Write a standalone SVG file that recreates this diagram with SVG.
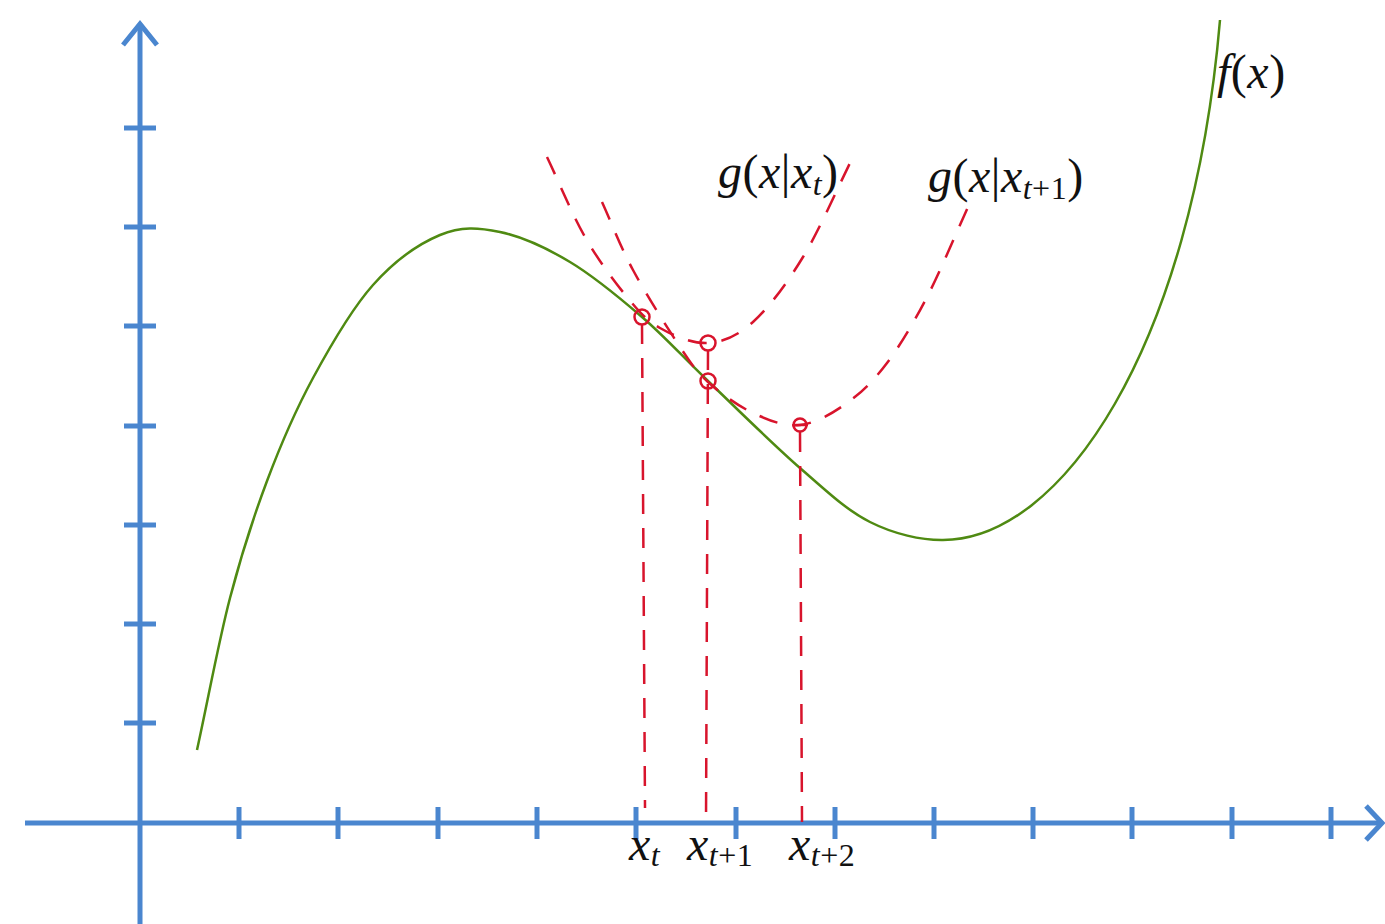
<svg xmlns="http://www.w3.org/2000/svg" width="1385" height="924" viewBox="0 0 1385 924">
<style>
.axis{stroke:#4a86cf;stroke-width:5;fill:none;stroke-linecap:butt}
.tick{stroke:#4a86cf;stroke-width:5}
.f{stroke:#4f8a12;stroke-width:2.5;fill:none}
.g{stroke:#d8142c;stroke-width:2.5;fill:none;stroke-dasharray:19 15}
.v{stroke:#d8142c;stroke-width:2.5;fill:none;stroke-dasharray:20 14}
.pt{stroke:#d8142c;stroke-width:2.5;fill:none}
.lbl{font-size:48px;fill:#111;letter-spacing:0.5px}
.it{font-style:italic}
.sub{font-size:32px}
</style>
<g id="axes">
<line class="axis" x1="140" y1="924" x2="140" y2="24"/>
<polyline class="axis" points="123,45 140,24 157,45"/>
<line class="axis" x1="25" y1="823" x2="1381" y2="823"/>
<polyline class="axis" points="1366,806 1382,823 1366,840"/>
<g class="tick">
<line x1="124" y1="128" x2="156" y2="128"/>
<line x1="124" y1="227" x2="156" y2="227"/>
<line x1="124" y1="326" x2="156" y2="326"/>
<line x1="124" y1="426" x2="156" y2="426"/>
<line x1="124" y1="525" x2="156" y2="525"/>
<line x1="124" y1="624" x2="156" y2="624"/>
<line x1="124" y1="723" x2="156" y2="723"/>
<line x1="239" y1="807" x2="239" y2="839"/>
<line x1="338" y1="807" x2="338" y2="839"/>
<line x1="438" y1="807" x2="438" y2="839"/>
<line x1="537" y1="807" x2="537" y2="839"/>
<line x1="636" y1="807" x2="636" y2="839"/>
<line x1="736" y1="807" x2="736" y2="839"/>
<line x1="835" y1="807" x2="835" y2="839"/>
<line x1="934" y1="807" x2="934" y2="839"/>
<line x1="1033" y1="807" x2="1033" y2="839"/>
<line x1="1132" y1="807" x2="1132" y2="839"/>
<line x1="1232" y1="807" x2="1232" y2="839"/>
<line x1="1331" y1="807" x2="1331" y2="839"/>
</g>
</g>
<g id="curve-f">
<path class="f" d="M197,750 C208,700 218.3,642.8 230,598 C241.7,553.2 253.2,517.7 267,481 C280.8,444.3 295.3,410.7 313,378 C330.7,345.3 351.8,308.8 373,285 C394.2,261.2 418.8,243.8 440,235 C461.2,226.2 478.3,227.5 500,232 C521.7,236.5 546.3,247.8 570,262 C593.7,276.2 619,297.2 642,317 C665,336.8 681.7,355.8 708,381 C734.3,406.2 773,444.5 800,468 C827,491.5 846.2,510 870,522 C893.8,534 921.3,540.3 943,540 C1060,540 1192,350 1220,20"/>
</g>
<g id="curve-g1">
<path class="g" d="M547,157 C559.7,183.7 571.7,213.7 585,237 C598.3,260.3 614.5,281.8 627,297 C639.5,312.2 646.5,320.3 660,328 C673.5,335.7 692.5,344 708,343 C723.5,342 737.2,336.3 753,322 C768.8,307.7 786.3,284.5 803,257 C819.7,229.5 836.3,190.3 853,157"/>
</g>
<g id="curve-g2">
<path class="g" d="M602,202 C612.3,224.7 620,245.8 633,270 C646,294.2 667.5,328.3 680,347 C692.5,365.7 695.8,371 708,382 C720.2,393 737.7,405.8 753,413 C768.3,420.2 784.3,426.7 800,425 C815.7,423.3 832.5,413.3 847,403 C861.5,392.7 873.7,380.7 887,363 C900.3,345.3 913.5,323 927,297 C940.5,271 954.3,237 968,207"/>
</g>
<g id="connectors">
<line class="v" x1="642" y1="324" x2="645" y2="808"/>
<line class="v" x1="708" y1="350" x2="706" y2="823"/>
<line class="v" x1="800" y1="432" x2="802" y2="822"/>
</g>
<g id="points">
<circle class="pt" cx="642" cy="317" r="7.5"/>
<circle class="pt" cx="708" cy="343" r="7.5"/>
<circle class="pt" cx="708" cy="381" r="7.5"/>
<circle class="pt" cx="800" cy="425" r="6.5"/>
<line class="pt" x1="793" y1="425" x2="808" y2="425"/>
</g>
<g font-family="'Liberation Serif', 'DejaVu Serif', serif">
<g id="label-g1"><text class="lbl" x="718" y="188"><tspan class="it">g</tspan>(<tspan class="it">x</tspan>|<tspan class="it">x</tspan><tspan class="it sub" dy="7">t</tspan><tspan dy="-7">)</tspan></text></g>
<g id="label-g2"><text class="lbl" x="928" y="192"><tspan class="it">g</tspan>(<tspan class="it">x</tspan>|<tspan class="it">x</tspan><tspan class="sub" dy="7"><tspan class="it">t</tspan>+1</tspan><tspan dy="-7">)</tspan></text></g>
<g id="label-f"><text class="lbl" x="1217" y="88"><tspan class="it">f</tspan>(<tspan class="it">x</tspan>)</text></g>
<g id="label-xt"><text class="lbl" x="629" y="860"><tspan class="it">x</tspan><tspan class="it sub" dy="6">t</tspan></text></g>
<g id="label-xt1"><text class="lbl" x="687" y="860"><tspan class="it">x</tspan><tspan class="sub" dy="6"><tspan class="it">t</tspan>+1</tspan></text></g>
<g id="label-xt2"><text class="lbl" x="789" y="860"><tspan class="it">x</tspan><tspan class="sub" dy="6"><tspan class="it">t</tspan>+2</tspan></text></g>
</g>
</svg>
